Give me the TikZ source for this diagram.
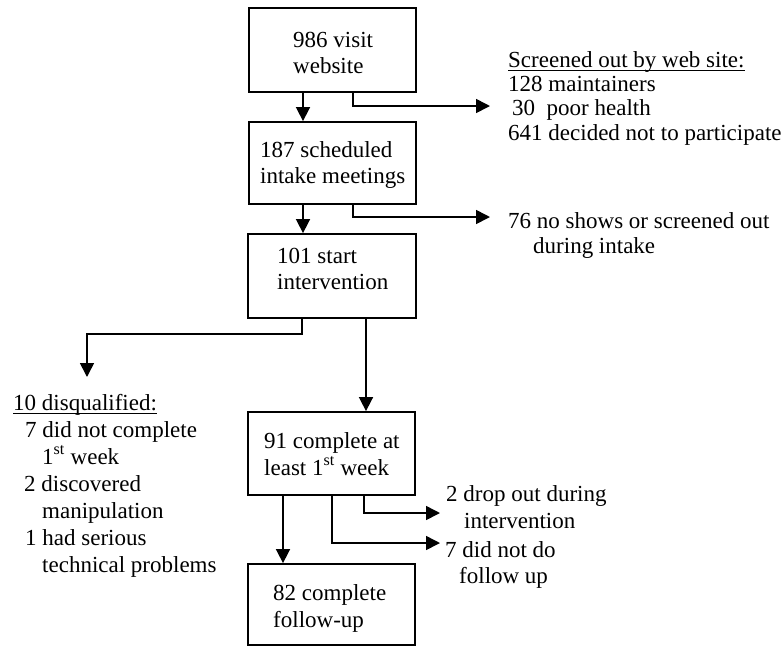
\documentclass[tikz,border=0pt]{standalone}
\usepackage{fontspec}
\setmainfont{Liberation Serif}
\usetikzlibrary{arrows.meta}
\newcommand\myul[1]{\setbox0=\hbox{#1}\rlap{\rule[-3.5pt]{\wd0}{1pt}}\box0}
\begin{document}
\begin{tikzpicture}[x=1pt,y=-1pt,
  box/.style={draw, line width=1.8pt, inner sep=0pt},
  txt/.style={inner sep=0pt, align=left, anchor=base west, font=\fontsize{23}{26}\selectfont},
  arr/.style={line width=1.6pt, -{Triangle[length=14pt,width=14pt]}}]
\useasboundingbox (0,0) rectangle (784,649);
% boxes
\node[box, minimum width=167pt, minimum height=84pt] (b1) at (332.5,50) {};
\node[box, minimum width=167pt, minimum height=82pt] (b2) at (332.5,163) {};
\node[box, minimum width=168pt, minimum height=84pt] (b3) at (332,276) {};
\node[box, minimum width=167pt, minimum height=83pt] (b4) at (331.5,453.5) {};
\node[box, minimum width=167pt, minimum height=81pt] (b5) at (331.5,604.5) {};
% box texts (anchor = baseline of last line)
\node[txt] (t1) at (293,73) {986 visit\\website};
\node[txt] (t2) at (260,183) {187 scheduled\\intake meetings};
\node[txt] (t3) at (277,289) {101 start\\intervention};
\node[txt, font=\fontsize{23}{27}\selectfont] (t4) at (264,475) {91 complete at\\least 1\textsuperscript{st} week};
\node[txt, font=\fontsize{23}{27}\selectfont] (t5) at (273,627) {82 complete\\follow-up};
% side texts
\node[txt, font=\fontsize{23}{24.4}\selectfont] (s1) at (508,140.2) {\myul{Screened out by web site:}\\128 maintainers\\\hspace*{4pt}30\ \ poor health\\641 decided not to participate};
\node[txt, font=\fontsize{23}{25}\selectfont] (s2) at (508,253) {76 no shows or screened out\\\hspace*{25pt}during intake};
\node[txt, font=\fontsize{23}{27}\selectfont] (d) at (13,572) {\myul{10 disqualified:}\\\hspace*{12pt}7 did not complete\\\hspace*{29pt}1\textsuperscript{st} week\\\hspace*{11pt}2 discovered\\\hspace*{29pt}manipulation\\\hspace*{12pt}1 had serious\\\hspace*{29pt}technical problems};
\node[txt, font=\fontsize{23}{27}\selectfont] (s3) at (446,528) {2 drop out during\\\hspace*{18pt}intervention};
\node[txt, font=\fontsize{23}{26}\selectfont] (s4) at (445,583) {7 did not do\\\hspace*{14pt}follow up};
% free ends
\coordinate (e1) at (490,106);
\coordinate (e2) at (490,217);
\coordinate (e3) at (87,377);
\coordinate (e4) at (440,513);
\coordinate (e5) at (440,543);
% connectors
\draw[arr] ([xshift=-29.5pt]b1.south) -- ([xshift=-29.5pt]b2.north);
\draw[arr] ([xshift=20.5pt]b1.south) |- (e1);
\draw[arr] ([xshift=-29.5pt]b2.south) -- ([xshift=-29.5pt]b2.south |- b3.north);
\draw[arr] ([xshift=20.5pt]b2.south) |- (e2);
\draw[arr] ([xshift=-30pt]b3.south) -- ++(0,15) -| (e3);
\draw[arr] ([xshift=34pt]b3.south) -- ([xshift=34pt]b3.south |- b4.north);
\draw[arr] ([xshift=-48.5pt]b4.south) -- ([xshift=-48.5pt]b4.south |- b5.north);
\draw[arr] ([xshift=32.5pt]b4.south) |- (e4);
\draw[arr] ([xshift=0.5pt]b4.south) |- (e5);
\end{tikzpicture}
\end{document}
